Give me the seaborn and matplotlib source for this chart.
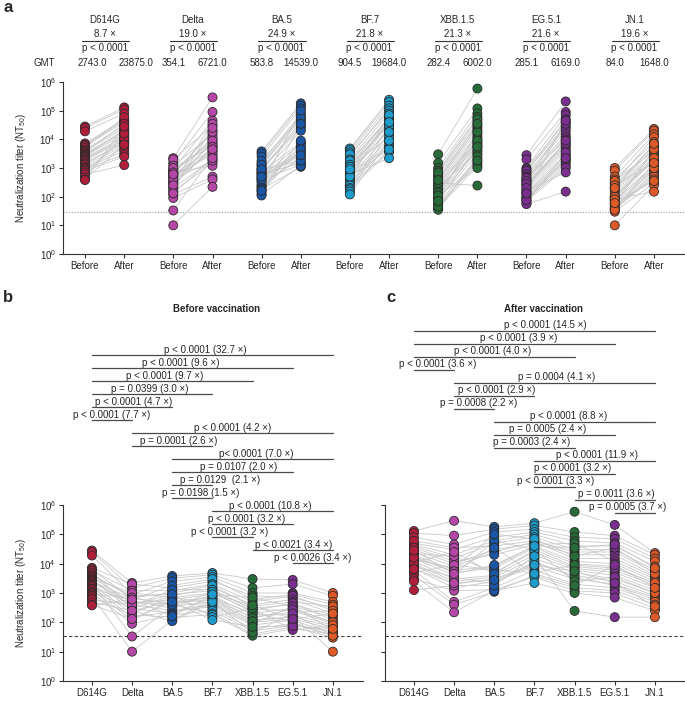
import pandas as pd
import matplotlib.pyplot as plt
import matplotlib.transforms as mtransforms
import seaborn as sns

sns.set_style('ticks')
plt.rcParams['font.family'] = ['Liberation Sans', 'DejaVu Sans']
plt.rcParams['mathtext.fontset'] = 'custom'
plt.rcParams['mathtext.rm'] = 'Liberation Sans'
plt.rcParams['mathtext.it'] = 'Liberation Sans:italic'

# variants and colours
variants = ['D614G', 'Delta', 'BA.5', 'BF.7', 'XBB.1.5', 'EG.5.1', 'JN.1']
colors = ['#B01E3C', '#B548A6', '#1B56A4', '#1D9DCB', '#276B38', '#7A2E8E', '#DD5A28']

# NT50 per subject, before vaccination
pre_d614g = [28000, 25000, 19000, 7200, 6500, 5800, 5000, 4300, 3900, 3500, 3200, 2900, 2700, 2500, 2300,
             2100, 1900, 1800, 1600, 1400, 1300, 1100, 1000, 900, 800, 700, 600, 480, 400, 380]
pre_delta = [2200, 1500, 900, 2000, 600, 1200, 300, 700, 800, 450, 1000, 250, 350, 650, 500,
             33, 200, 400, 150, 550, 120, 300, 90, 700, 10, 180, 400, 250, 130, 600]
pre_ba5 = [3800, 3200, 2500, 1500, 1800, 1200, 800, 1000, 900, 600, 700, 500, 1300, 450, 400,
           350, 700, 250, 230, 300, 600, 200, 180, 400, 120, 150, 900, 110, 500, 160]
pre_bf7 = [4800, 4200, 3500, 2500, 3000, 2000, 1500, 1800, 1200, 900, 1000, 700, 1300, 600, 800,
           500, 450, 400, 350, 1100, 300, 700, 250, 200, 600, 180, 150, 500, 120, 900]
pre_xbb = [3000, 1500, 1000, 800, 600, 500, 400, 350, 300, 700, 250, 200, 280, 150, 180,
           120, 100, 90, 80, 220, 60, 140, 50, 40, 110, 35, 300, 45, 70, 380]
pre_eg51 = [2800, 2000, 1000, 700, 900, 800, 600, 500, 400, 350, 450, 300, 250, 220, 180,
            150, 130, 350, 120, 100, 90, 280, 80, 70, 160, 60, 55, 200, 75, 130]
pre_jn1 = [1000, 800, 500, 300, 400, 250, 200, 350, 180, 150, 120, 100, 90, 250, 80,
           70, 60, 55, 40, 35, 35, 100, 50, 30, 10, 40, 80, 35, 60, 200]

# NT50 per subject, after vaccination
post_d614g = [130000, 110000, 80000, 50000, 45000, 40000, 60000, 30000, 25000, 35000, 20000, 18000, 15000, 22000, 12000,
              10000, 9000, 14000, 7000, 8000, 6000, 5000, 4000, 3000, 2500, 11000, 1260, 16000, 6500, 28000]
post_delta = [290000, 90000, 45000, 30000, 20000, 15000, 35000, 10000, 8000, 12000, 6000, 5000, 4000, 18000, 3000,
              2500, 2000, 7000, 1500, 3500, 500, 9000, 400, 1200, 220, 25000, 1800, 5500, 2200, 4500]
post_ba5 = [180000, 150000, 120000, 80000, 60000, 50000, 40000, 30000, 25000, 20000, 8000, 7000, 60000, 5000, 4000,
            3500, 3000, 100000, 2500, 2000, 1500, 6000, 1100, 1300, 1200, 4500, 1800, 35000, 2800, 9000]
post_bf7 = [240000, 200000, 150000, 120000, 100000, 80000, 60000, 50000, 55000, 45000, 40000, 35000, 30000, 25000, 20000,
            15000, 10000, 70000, 8000, 12000, 6000, 5000, 4000, 3500, 2200, 30000, 18000, 4500, 9000, 40000]
post_xbb = [590000, 120000, 80000, 60000, 40000, 30000, 25000, 20000, 15000, 50000, 12000, 10000, 8000, 7000, 6000,
            5000, 4000, 18000, 3000, 3500, 2000, 9000, 1500, 1200, 1000, 2500, 245, 1800, 5500, 35000]
post_eg51 = [210000, 90000, 70000, 50000, 40000, 30000, 25000, 20000, 15000, 12000, 10000, 8000, 6000, 5000, 4000,
             3000, 2500, 35000, 2000, 1800, 1500, 7000, 1200, 1000, 700, 3500, 150, 9000, 2200, 45000]
post_jn1 = [23000, 20000, 15000, 12000, 8000, 6000, 5000, 4000, 3500, 3000, 2500, 2000, 1800, 1500, 1200,
            1000, 800, 4500, 700, 600, 500, 2200, 400, 300, 250, 1000, 150, 1500, 350, 7000]

pre_lists = [pre_d614g, pre_delta, pre_ba5, pre_bf7, pre_xbb, pre_eg51, pre_jn1]
post_lists = [post_d614g, post_delta, post_ba5, post_bf7, post_xbb, post_eg51, post_jn1]

fold_labels = ['8.7 ×', '19.0 ×', '24.9 ×', '21.8 ×', '21.3 ×', '21.6 ×', '19.6 ×']
p_labels = ['p < 0.0001'] * 7
gmt_pre = ['2743.0', '354.1', '583.8', '904.5', '282.4', '285.1', '84.0']
gmt_post = ['23875.0', '6721.0', '14539.0', '19684.0', '6002.0', '6169.0', '1648.0']

# pairwise comparisons: (from, to, label, label x)
comp_before = [
    (0, 6, 'p < 0.0001 (32.7 ×)', 2.83),
    (0, 5, 'p < 0.0001 (9.6 ×)', 2.2),
    (0, 4, 'p < 0.0001 (9.7 ×)', 1.8),
    (0, 3, 'p = 0.0399 (3.0 ×)', 1.43),
    (0, 2, 'p < 0.0001 (4.7 ×)', 1.05),
    (0, 1, 'p < 0.0001 (7.7 ×)', 0.5),
    (1, 6, 'p < 0.0001 (4.2 ×)', 3.5),
    (1, 3, 'p = 0.0001 (2.6 ×)', 2.15),
    (2, 6, 'p< 0.0001 (7.0 ×)', 4.08),
    (2, 5, 'p = 0.0107 (2.0 ×)', 3.65),
    (2, 3, 'p = 0.0129  (2.1 ×)', 3.18),
    (2, 3, 'p = 0.0198 (1.5 ×)', 2.7),
    (3, 6, 'p < 0.0001 (10.8 ×)', 4.45),
    (3, 5, 'p < 0.0001 (3.2 ×)', 3.85),
    (3, 4, 'p < 0.0001 (3.2 ×)', 3.43),
    (4, 6, 'p < 0.0021 (3.4 ×)', 5.03),
    (5, 6, 'p < 0.0026 (3.4 ×)', 5.5),
]
comp_after = [
    (0, 6, 'p < 0.0001 (14.5 ×)', 3.28),
    (0, 5, 'p < 0.0001 (3.9 ×)', 2.6),
    (0, 4, 'p < 0.0001 (4.0 ×)', 1.95),
    (0, 1, 'p < 0.0001 (3.6 ×)', 0.58),
    (1, 6, 'p = 0.0004 (4.1 ×)', 3.55),
    (1, 3, 'p < 0.0001 (2.9 ×)', 2.05),
    (1, 2, 'p = 0.0008 (2.2 ×)', 1.6),
    (2, 6, 'p < 0.0001 (8.8 ×)', 3.85),
    (2, 5, 'p = 0.0005 (2.4 ×)', 3.33),
    (2, 4, 'p = 0.0003 (2.4 ×)', 2.93),
    (3, 6, 'p < 0.0001 (11.9 ×)', 4.55),
    (3, 5, 'p < 0.0001 (3.2 ×)', 3.95),
    (3, 4, 'p < 0.0001 (3.3 ×)', 3.53),
    (4, 6, 'p = 0.0011 (3.6 ×)', 5.05),
    (5, 6, 'p = 0.0005 (3.7 ×)', 5.33),
]

W, H = 685, 701
fig = plt.figure(figsize=(W / 100, H / 100), dpi=100)


def rect(l, t, r, b):
    return [l / W, 1 - b / H, (r - l) / W, (b - t) / H]


# long tables
rows = []
for vi, v in enumerate(variants):
    for si in range(len(pre_lists[vi])):
        rows.append(dict(variant=v, vi=vi, subject=si, time='Before', titer=pre_lists[vi][si]))
        rows.append(dict(variant=v, vi=vi, subject=si, time='After', titer=post_lists[vi][si]))
df = pd.DataFrame(rows)
step = 2.25
df['xa'] = df['vi'] * step + (df['time'] == 'After').astype(int)
df['pair'] = df['variant'] + '_' + df['subject'].astype(str)

yticks = [10 ** k for k in range(7)]
ylabs = [f'$10^{{{k}}}$' for k in range(7)]
ylabel = 'Neutralization titer (NT$_{50}$)'


def style_axis(ax, xl, lod, ls, lc, labels=True):
    ax.set_yscale('log')
    ax.set_ylim(1, 1e6)
    ax.set_xlim(*xl)
    ax.set_yticks(yticks)
    ax.set_yticklabels(ylabs if labels else [])
    ax.minorticks_off()
    ax.tick_params(direction='out', length=3, width=0.8, labelsize=7, pad=2, color='#333333')
    for s in ['left', 'bottom']:
        ax.spines[s].set_linewidth(0.8)
        ax.spines[s].set_color('#333333')
    sns.despine(ax=ax)
    ax.axhline(lod, color=lc, lw=0.8, ls=ls, zorder=0)
    ax.set_xlabel('')
    if labels:
        ax.set_ylabel(ylabel, fontsize=7)
    else:
        ax.set_ylabel('')


# ---------- panel a ----------
ax_a = fig.add_axes(rect(63, 82, 685, 254))
sns.lineplot(data=df, x='xa', y='titer', units='pair', estimator=None, color='#c9c9c9',
             lw=0.6, ax=ax_a, legend=False, zorder=1)
sns.scatterplot(data=df, x='xa', y='titer', hue='variant', palette=colors, s=42,
                edgecolor='#2a2a2a', linewidth=0.6, legend=False, ax=ax_a, zorder=3)
style_axis(ax_a, (-0.56, 15.29), 30, (0, (1, 1.5)), '#9a9a9a')
xa_ticks = [vi * step + k for vi in range(7) for k in (0, 1)]
ax_a.set_xticks(xa_ticks)
ax_a.set_xticklabels(['Before', 'After'] * 7)
ax_a.yaxis.set_label_coords(-0.057, 0.5)

tr_a = mtransforms.blended_transform_factory(ax_a.transData, ax_a.transAxes)
for vi, v in enumerate(variants):
    c = vi * step + 0.5
    ax_a.text(c, 1.36, v, transform=tr_a, ha='center', va='center', fontsize=7)
    ax_a.text(c, 1.279, fold_labels[vi], transform=tr_a, ha='center', va='center', fontsize=7)
    ax_a.plot([vi * step - 0.08, vi * step + 1.12], [1.238, 1.238], transform=tr_a,
              color='#333333', lw=0.8, clip_on=False)
    ax_a.text(c, 1.198, p_labels[vi], transform=tr_a, ha='center', va='center', fontsize=7)
    dx = 0.18 if vi == 0 else 0
    ax_a.text(vi * step + dx, 1.11, gmt_pre[vi], transform=tr_a, ha='center', va='center', fontsize=7)
    ax_a.text(vi * step + 1 + 1.7 * dx, 1.11, gmt_post[vi], transform=tr_a, ha='center', va='center', fontsize=7)
ax_a.text(-1.04, 1.11, 'GMT', transform=tr_a, ha='center', va='center', fontsize=7)


# ---------- panels b and c ----------
def cross_panel(ax, time, comps, y0, show_labels):
    d = df[df['time'] == time]
    sns.lineplot(data=d, x='vi', y='titer', units='subject', estimator=None, color='#c9c9c9',
                 lw=0.6, ax=ax, legend=False, zorder=1)
    sns.scatterplot(data=d, x='vi', y='titer', hue='variant', palette=colors, s=42,
                    edgecolor='#2a2a2a', linewidth=0.6, legend=False, ax=ax, zorder=3)
    style_axis(ax, (-0.72, 6.75), 33, (0, (3, 2)), '#444444', labels=show_labels)
    ax.set_xticks(range(7))
    ax.set_xticklabels(variants)
    tr = mtransforms.blended_transform_factory(ax.transData, ax.transAxes)
    row = 13 / 176
    for k, (i, j, lab, tx) in enumerate(comps):
        y = y0 - k * row
        ax.plot([i, j], [y, y], transform=tr, color='#4a4a4a', lw=0.9, clip_on=False)
        ax.text(tx, y + 0.003, lab, transform=tr, ha='center', va='bottom', fontsize=7)


ax_b = fig.add_axes(rect(63, 505, 363, 681))
cross_panel(ax_b, 'Before', comp_before, 1.852, True)
ax_b.yaxis.set_label_coords(-0.117, 0.5)

ax_c = fig.add_axes(rect(385, 505, 685, 681))
cross_panel(ax_c, 'After', comp_after, 1.989, False)

fig.text(217 / W, 1 - 309 / H, 'Before vaccination', ha='center', va='center', fontsize=7, fontweight='bold')
fig.text(543 / W, 1 - 309 / H, 'After vaccination', ha='center', va='center', fontsize=7, fontweight='bold')

fig.text(3 / W, 1 - 8 / H, 'a', fontsize=12, fontweight='bold', va='center', ha='left')
fig.text(3 / W, 1 - 297 / H, 'b', fontsize=12, fontweight='bold', va='center', ha='left')
fig.text(386 / W, 1 - 298 / H, 'c', fontsize=12, fontweight='bold', va='center', ha='left')

fig.savefig('out.png', dpi=100)
